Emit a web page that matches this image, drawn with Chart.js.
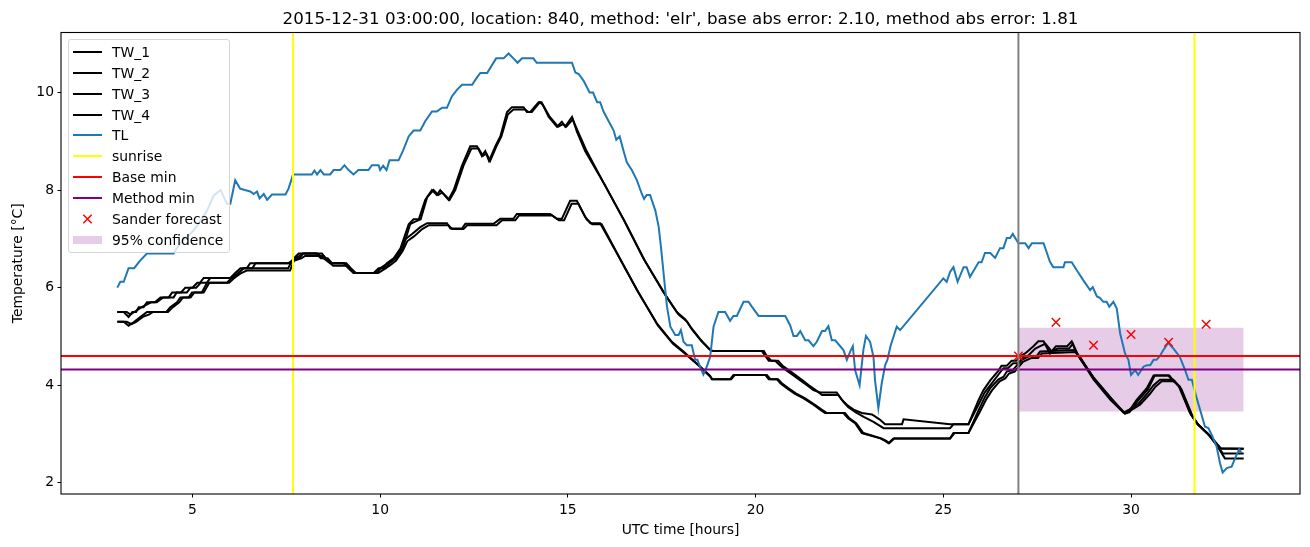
<!DOCTYPE html>
<html>
<head>
<meta charset="utf-8">
<title>TW / TL forecast</title>
<script src="https://cdn.jsdelivr.net/npm/chart.js@4.4.0/dist/chart.umd.min.js"></script>
<style>
  html, body { margin: 0; padding: 0; background: #fff; }
  #wrap { position: relative; width: 1310px; height: 547px; font-family: 'DejaVu Sans', sans-serif; color: #000; }
  #title { position: absolute; left: 61px; width: 1239px; top: 8px; text-align: center; font-size: 16.7px; line-height: 20px; white-space: nowrap; }
  #legend { position: absolute; left: 68px; top: 39px; width: 162px; height: 214px; box-sizing: border-box; border: 1px solid #d6d6d6; border-radius: 3px; background: rgba(255,255,255,0.8); font-size: 13.9px; }
  #legend .row { position: absolute; left: 0; width: 100%; height: 20px; line-height: 20px; }
  #legend .txt { position: absolute; left: 43px; top: 0; white-space: nowrap; }
  #legend .hline { position: absolute; left: 4px; top: 9px; width: 29px; height: 2px; }
  #legend .patch { position: absolute; left: 4px; top: 6px; width: 29px; height: 8px; }
  #legend svg { position: absolute; left: 4px; top: 0; }
</style>
</head>
<body>
<div id="wrap">
  <canvas id="chart" width="1310" height="547"></canvas>
  <div id="title"></div>
  <div id="legend"></div>
</div>
<script>
const titleText = "2015-12-31 03:00:00, location: 840, method: 'elr', base abs error: 2.10, method abs error: 1.81"
const xLabel = 'UTC time [hours]'
const yLabel = 'Temperature [°C]'

const xTicks = [5, 10, 15, 20, 25, 30]
const yTicks = [2, 4, 6, 8, 10]
const xMin = 1.5, xMax = 34.5
const yMin = 1.77, yMax = 11.23

// air temperature TL
const tlTime = [3.0,3.08,3.17,3.3,3.45,3.6,3.79,4.06,4.5,4.6,4.75,5.03,5.2,5.39,5.57,5.75,5.92,6.01,6.14,6.27,6.54,6.63,6.72,6.79,6.9,6.99,7.12,7.48,7.56,7.68,8.18,8.25,8.32,8.41,8.5,8.67,8.76,8.94,9.05,9.16,9.29,9.42,9.69,9.78,9.96,10.0,10.08,10.17,10.25,10.49,10.61,10.76,10.89,11.07,11.2,11.38,11.51,11.65,11.78,11.91,12.05,12.18,12.45,12.58,12.67,12.85,13.09,13.29,13.42,13.55,13.66,13.78,14.08,14.17,15.11,15.2,15.29,15.42,15.58,15.67,15.78,15.86,15.95,16.08,16.22,16.29,16.38,16.48,16.57,16.71,16.84,16.97,17.03,17.1,17.19,17.33,17.42,17.48,17.55,17.64,17.73,17.86,17.95,18.01,18.08,18.17,18.3,18.39,18.45,18.52,18.61,18.7,18.79,18.88,19.01,19.19,19.32,19.41,19.5,19.68,19.81,19.9,20.08,20.79,20.92,21.01,21.1,21.19,21.32,21.41,21.54,21.63,21.77,21.85,21.94,22.03,22.12,22.34,22.43,22.52,22.59,22.65,22.77,22.87,22.94,23.05,23.14,23.18,23.27,23.36,23.45,23.51,23.6,23.76,23.85,25.0,25.09,25.18,25.27,25.38,25.54,25.62,25.71,25.94,26.02,26.11,26.25,26.38,26.51,26.6,26.69,26.78,26.85,27.0,27.18,27.27,27.36,27.67,27.84,27.93,28.2,28.24,28.42,28.55,28.73,28.91,28.98,29.09,29.17,29.26,29.35,29.42,29.53,29.62,29.71,29.84,29.93,30.0,30.11,30.19,30.33,30.42,30.51,30.6,30.68,30.77,30.86,30.99,31.13,31.3,31.44,31.53,31.62,31.75,31.88,31.97,32.06,32.15,32.28,32.37,32.44,32.55,32.68,32.77,32.88,32.94]
const tlValues = [6.0,6.12,6.12,6.4,6.4,6.55,6.7,6.7,6.7,6.83,6.97,7.17,7.35,7.58,7.89,8.0,7.72,7.72,8.2,8.03,7.97,7.92,7.97,7.83,7.92,7.8,7.91,7.91,8.03,8.32,8.32,8.4,8.32,8.41,8.32,8.32,8.41,8.41,8.51,8.41,8.32,8.41,8.41,8.51,8.51,8.41,8.5,8.41,8.61,8.61,8.81,9.1,9.22,9.22,9.41,9.61,9.61,9.69,9.69,9.92,10.06,10.16,10.16,10.31,10.4,10.4,10.7,10.7,10.8,10.7,10.61,10.7,10.7,10.61,10.61,10.41,10.38,10.24,10.0,10.0,9.8,9.8,9.61,9.42,9.22,9.03,9.1,8.81,8.57,8.4,8.2,7.92,7.82,7.9,7.9,7.58,7.24,6.83,6.29,5.61,5.2,5.03,5.03,5.13,4.89,4.82,4.82,4.52,4.52,4.38,4.22,4.38,4.58,5.2,5.5,5.5,5.32,5.42,5.42,5.71,5.71,5.61,5.42,5.42,5.23,5.01,5.01,5.11,4.92,4.92,4.8,4.89,5.11,5.11,5.21,4.92,4.92,4.72,4.52,4.69,4.8,4.31,4.0,4.72,5.01,4.89,4.58,4.11,3.53,4.04,4.41,4.52,4.82,5.2,5.13,6.19,6.12,6.32,6.42,6.12,6.42,6.42,6.22,6.52,6.52,6.71,6.71,6.61,6.81,6.81,7.02,7.02,7.1,6.91,6.91,6.81,6.91,6.91,6.53,6.42,6.42,6.52,6.52,6.36,6.15,5.95,6.01,5.82,5.79,5.71,5.71,5.61,5.71,5.57,5.06,4.65,4.52,4.21,4.31,4.21,4.38,4.41,4.41,4.52,4.52,4.6,4.72,4.87,4.75,4.58,4.31,4.11,4.11,3.73,3.39,3.15,3.12,2.98,2.74,2.4,2.21,2.3,2.33,2.5,2.69,2.61]

// road / wet-bulb series TW_1..TW_4
const tw1Time = [3.0,3.17,3.3,3.4,3.5,3.57,3.7,3.79,4.0,4.15,4.37,4.46,4.7,4.81,5.0,5.13,5.2,5.3,6.01,6.14,6.28,6.45,6.54,7.61,7.7,7.83,8.32,8.5,8.67,9.03,9.15,9.29,9.83,9.96,10.1,10.18,10.36,10.54,10.76,10.89,11.03,11.2,11.38,11.51,11.6,11.82,11.96,12.18,12.4,12.58,12.71,12.8,12.9,13.07,13.2,13.38,13.51,13.82,13.91,14.0,14.22,14.3,14.49,14.71,14.84,14.93,15.11,15.24,15.46,15.99,16.48,17.01,17.55,17.9,18.13,18.26,18.52,18.75,18.83,20.17,20.26,20.35,20.52,20.66,20.83,21.01,21.19,21.37,21.54,21.72,22.16,22.3,22.43,22.61,22.83,23.1,23.3,23.45,23.9,23.94,25.18,25.27,25.67,25.94,26.07,26.25,26.47,26.55,26.69,26.82,26.95,27.05,27.18,27.4,27.53,27.67,27.84,28.0,28.3,28.42,28.55,28.99,29.44,29.8,29.93,30.15,30.42,30.6,30.99,31.1,31.26,31.57,31.75,32.02,32.2,32.37,33.0]
const tw1 = [5.5,5.5,5.4,5.5,5.5,5.6,5.6,5.7,5.7,5.8,5.8,5.9,5.9,6.0,6.0,6.1,6.1,6.2,6.2,6.3,6.4,6.4,6.5,6.5,6.6,6.7,6.7,6.6,6.5,6.5,6.4,6.3,6.3,6.4,6.4,6.5,6.6,6.8,7.3,7.4,7.4,7.8,8.0,7.9,8.0,7.8,8.0,8.5,8.9,8.9,8.7,8.8,8.6,8.9,9.1,9.6,9.7,9.7,9.6,9.6,9.8,9.8,9.5,9.3,9.4,9.3,9.5,9.2,8.8,8.1,7.4,6.6,5.9,5.5,5.35,5.2,4.95,4.75,4.7,4.7,4.6,4.5,4.5,4.4,4.3,4.2,4.1,4.0,3.9,3.85,3.85,3.7,3.6,3.5,3.43,3.4,3.3,3.2,3.2,3.3,3.2,3.2,3.2,3.7,3.9,4.1,4.3,4.4,4.4,4.5,4.5,4.6,4.65,4.8,4.9,4.9,4.65,4.8,4.8,4.9,4.65,4.17,3.76,3.44,3.45,3.7,3.94,4.2,4.2,4.1,4.0,3.43,3.22,3.02,2.88,2.71,2.7]

const tw2Time = [3.0,3.25,3.35,3.45,3.65,3.9,4.05,4.22,4.5,4.58,4.85,4.95,5.1,5.22,5.38,5.48,6.1,6.22,6.36,6.6,6.68,7.55,7.65,7.75,7.95,8.3,8.42,8.6,8.72,9.1,9.22,9.35,9.9,10.02,10.15,10.25,10.42,10.6,10.8,10.92,11.08,11.25,11.42,11.55,11.65,11.85,12.0,12.22,12.43,12.62,12.74,12.83,12.93,13.1,13.23,13.4,13.55,13.86,13.95,14.04,14.25,14.33,14.52,14.74,14.87,14.96,15.13,15.27,15.5,16.02,16.52,17.05,17.6,17.95,18.18,18.3,18.56,18.8,18.88,20.22,20.3,20.42,20.6,20.72,20.9,21.08,21.25,21.42,21.6,21.77,22.2,22.35,22.47,22.66,22.88,23.14,23.41,23.76,25.18,25.27,25.67,25.97,26.1,26.3,26.5,26.6,26.72,26.86,27.0,27.1,27.25,27.45,27.58,27.72,27.88,28.05,28.35,28.45,28.6,29.03,29.48,29.84,29.96,30.18,30.45,30.63,31.02,31.12,31.3,31.6,31.78,32.05,32.23,32.4,33.0]
const tw2 = [5.5,5.5,5.45,5.5,5.6,5.7,5.7,5.8,5.8,5.9,5.9,6.0,6.0,6.1,6.1,6.2,6.2,6.3,6.4,6.4,6.5,6.5,6.55,6.6,6.7,6.7,6.6,6.6,6.5,6.5,6.4,6.3,6.3,6.4,6.4,6.5,6.6,6.8,7.3,7.35,7.4,7.85,8.0,7.9,7.95,7.8,8.0,8.5,8.85,8.85,8.7,8.75,8.6,8.9,9.1,9.55,9.65,9.65,9.6,9.6,9.8,9.75,9.5,9.3,9.35,9.3,9.45,9.2,8.8,8.05,7.35,6.55,5.85,5.45,5.3,5.15,4.9,4.72,4.7,4.7,4.6,4.5,4.5,4.4,4.3,4.2,4.1,4.0,3.9,3.8,3.8,3.65,3.55,3.45,3.35,3.25,3.12,3.12,3.12,3.2,3.2,3.65,3.85,4.05,4.25,4.35,4.35,4.45,4.45,4.55,4.6,4.75,4.8,4.85,4.7,4.75,4.75,4.85,4.6,4.12,3.72,3.42,3.45,3.68,3.92,4.2,4.2,4.1,3.97,3.4,3.2,3.0,2.85,2.7,2.7]

const tw3Time = [3.0,3.17,3.3,3.45,3.62,3.79,4.3,4.41,4.59,4.68,4.9,4.99,5.25,5.39,5.92,6.05,6.23,6.37,7.55,7.62,7.7,7.85,7.95,8.45,8.55,8.7,9.05,9.2,9.3,9.9,10.0,10.2,10.38,10.55,10.68,10.85,11.07,11.25,11.78,11.87,12.18,12.27,13.02,13.2,13.55,13.64,14.53,14.71,14.84,15.06,15.24,15.46,15.6,15.86,16.31,16.84,17.37,17.77,18.08,18.5,18.79,18.83,19.32,19.41,20.26,20.35,20.57,20.66,20.83,21.05,21.28,21.54,21.72,21.85,22.34,22.47,22.65,22.83,23.32,23.45,23.54,23.67,25.18,25.27,25.67,25.94,26.11,26.25,26.47,26.6,26.69,26.85,27.09,27.31,27.49,27.58,28.5,28.6,29.0,29.45,29.8,29.95,30.2,30.45,30.6,30.77,31.13,31.3,31.6,31.78,32.05,32.25,32.45,33.0]
const tw3 = [5.3,5.3,5.22,5.3,5.4,5.5,5.5,5.6,5.7,5.8,5.8,5.9,5.9,6.1,6.1,6.2,6.3,6.4,6.4,6.5,6.6,6.6,6.7,6.7,6.6,6.5,6.5,6.4,6.3,6.3,6.4,6.5,6.6,6.8,7.0,7.1,7.24,7.32,7.32,7.21,7.21,7.31,7.31,7.41,7.41,7.51,7.51,7.41,7.41,7.78,7.78,7.45,7.32,7.32,6.7,5.95,5.27,4.89,4.69,4.4,4.19,4.12,4.12,4.21,4.21,4.12,4.12,4.04,3.94,3.82,3.73,3.6,3.5,3.43,3.43,3.32,3.22,3.02,2.91,2.86,2.81,2.91,2.91,3.02,3.02,3.49,3.76,3.94,4.12,4.17,4.28,4.31,4.52,4.6,4.6,4.69,4.72,4.6,4.12,3.7,3.44,3.5,3.62,3.85,4.0,4.11,4.11,3.95,3.4,3.2,3.0,2.8,2.6,2.6]

const tw4Time = [3.0,3.25,3.38,3.5,3.68,3.85,3.95,4.35,4.48,4.65,4.75,4.95,5.05,5.3,5.45,5.98,6.12,6.3,6.45,7.6,7.7,7.9,8.0,8.5,8.6,8.75,9.1,9.25,9.35,9.95,10.05,10.25,10.42,10.6,10.72,10.9,11.12,11.3,11.82,11.92,12.22,12.32,13.1,13.25,13.6,13.7,14.58,14.76,14.9,15.1,15.28,15.5,15.65,15.9,16.35,16.88,17.4,17.8,18.1,18.52,18.8,18.86,19.35,19.45,20.3,20.4,20.6,20.7,20.87,21.1,21.32,21.58,21.76,21.9,22.38,22.5,22.68,22.87,23.35,23.48,23.56,23.7,25.18,25.3,25.67,25.97,26.15,26.3,26.5,26.65,26.75,26.9,27.12,27.35,27.52,27.62,28.52,28.64,29.04,29.5,29.84,29.98,30.24,30.5,30.65,30.82,31.16,31.34,31.63,31.8,32.08,32.3,32.5,33.0]
const tw4 = [5.3,5.3,5.25,5.3,5.4,5.45,5.5,5.5,5.6,5.7,5.8,5.8,5.9,5.9,6.1,6.1,6.2,6.3,6.35,6.35,6.55,6.6,6.65,6.65,6.55,6.45,6.45,6.35,6.3,6.3,6.35,6.45,6.55,6.75,6.95,7.05,7.2,7.28,7.28,7.2,7.2,7.28,7.28,7.38,7.38,7.48,7.48,7.38,7.38,7.72,7.72,7.4,7.3,7.3,6.65,5.9,5.22,4.85,4.66,4.38,4.17,4.12,4.12,4.21,4.21,4.12,4.12,4.04,3.94,3.82,3.73,3.6,3.5,3.43,3.43,3.32,3.22,3.02,2.91,2.86,2.81,2.91,2.91,3.02,3.02,3.45,3.72,3.9,4.08,4.14,4.24,4.28,4.48,4.56,4.56,4.65,4.68,4.58,4.1,3.68,3.42,3.48,3.6,3.82,3.97,4.08,4.08,3.92,3.38,3.18,2.98,2.75,2.5,2.5]

const sunrise = [7.68, 31.69]
const forecastTime = 27.0
const baseMin = 4.6
const methodMin = 4.32

const sanderTime = [27, 28, 29, 30, 31, 32]
const sanderValues = [4.6, 5.29, 4.82, 5.04, 4.88, 5.25]

const confStart = 27.0, confEnd = 33.0
const confLow = 3.46, confHigh = 5.18

const TL_BLUE = '#1f77b4'
const CONF_FILL = 'rgba(128, 0, 128, 0.2)'

function pts(t, v){
    return t.map((x, i) => ({x: x, y: v[i]}))
}

function vlines(xs){
    return xs.flatMap(x => [{x: x, y: yMin}, {x: x, y: yMax}, {x: x, y: null}])
}

function hline(y){
    return [{x: xMin, y: y}, {x: xMax, y: y}]
}

function twLine(label, t, v, order){
    return {label: label, data: pts(t, v), borderColor: '#000', handle: 'line', order: order}
}

const datasets = [
    twLine('TW_1', tw1Time, tw1, 60),
    twLine('TW_2', tw2Time, tw2, 59),
    twLine('TW_3', tw3Time, tw3, 58),
    twLine('TW_4', tw4Time, tw4, 57),
    {label: 'TL', data: pts(tlTime, tlValues), borderColor: TL_BLUE, handle: 'line', order: 56},
    {label: 'sunrise', data: vlines(sunrise), borderColor: '#ffff00', spanGaps: false, handle: 'line', order: 55},
    {label: 'Base min', data: hline(baseMin), borderColor: '#ff0000', handle: 'line', order: 54},
    {label: 'Method min', data: hline(methodMin), borderColor: '#800080', handle: 'line', order: 53},
    {label: 'Sander forecast', data: pts(sanderTime, sanderValues), showLine: false,
        pointStyle: 'crossRot', pointRadius: 6, pointBorderWidth: 1.5, borderColor: '#ff0000', handle: 'x', order: 52},
    {label: '95% confidence', data: [{x: confStart, y: confHigh}, {x: confEnd, y: confHigh}],
        borderWidth: 0, borderColor: 'rgba(0,0,0,0)', backgroundColor: CONF_FILL, fill: {value: confLow}, handle: 'patch', order: 100},
    {label: '', data: vlines([forecastTime]), borderColor: '#808080', spanGaps: false, order: 51}
]

const framePlugin = {
    id: 'frame',
    afterDatasetsDraw(chart){
        const {ctx, chartArea} = chart
        ctx.save()
        ctx.strokeStyle = '#000'
        ctx.lineWidth = 1.1
        ctx.strokeRect(chartArea.left, chartArea.top, chartArea.right - chartArea.left, chartArea.bottom - chartArea.top)
        ctx.restore()
    }
}

Chart.defaults.font.family = "'DejaVu Sans', sans-serif"
Chart.defaults.font.size = 13.9
Chart.defaults.color = '#000'

function axisTicks(list){
    return function(scale){
        scale.ticks = list.map(v => ({value: v}))
    }
}

const ctx = document.getElementById('chart').getContext('2d')
const chart = new Chart(ctx, {
    type: 'line',
    data: {datasets: datasets},
    options: {
        responsive: false,
        animation: false,
        layout: {padding: {top: 32.5, right: 10, left: 0, bottom: 0}},
        elements: {
            point: {radius: 0},
            line: {tension: 0, borderWidth: 2, fill: false}
        },
        plugins: {
            legend: {display: false},
            tooltip: {enabled: false},
            title: {display: false}
        },
        scales: {
            x: {
                type: 'linear',
                min: xMin,
                max: xMax,
                afterBuildTicks: axisTicks(xTicks),
                afterFit: function(scale){ scale.height = 53 },
                grid: {drawOnChartArea: false, drawTicks: true, tickLength: 3.5, tickColor: '#000', tickWidth: 1},
                border: {display: false},
                ticks: {padding: 5, maxRotation: 0, autoSkip: false, color: '#000'},
                title: {display: true, text: xLabel, color: '#000', padding: {top: 0, bottom: 8.7}}
            },
            y: {
                type: 'linear',
                min: yMin,
                max: yMax,
                afterBuildTicks: axisTicks(yTicks),
                afterFit: function(scale){ scale.width = 61 },
                grid: {drawOnChartArea: false, drawTicks: true, tickLength: 3.5, tickColor: '#000', tickWidth: 1},
                border: {display: false},
                ticks: {padding: 3.5, autoSkip: false, color: '#000'},
                title: {display: true, text: yLabel, color: '#000', padding: {top: 9.7, bottom: 0}}
            }
        }
    },
    plugins: [framePlugin]
})

document.getElementById('title').textContent = titleText

// legend drawn as html inside the plot, like matplotlib's upper left box
const legend = document.getElementById('legend')
let row = 0
datasets.forEach(function(ds){
    if (!ds.label) return
    const el = document.createElement('div')
    el.className = 'row'
    el.style.top = (2 + row * 20.85) + 'px'
    if (ds.handle === 'line'){
        const h = document.createElement('span')
        h.className = 'hline'
        h.style.background = ds.borderColor
        el.appendChild(h)
    } else if (ds.handle === 'x'){
        el.innerHTML = '<svg width="29" height="20"><path d="M10.3 5.8 L18.7 14.2 M18.7 5.8 L10.3 14.2" stroke="' + ds.borderColor + '" stroke-width="1.5"/></svg>'
    } else if (ds.handle === 'patch'){
        const p = document.createElement('span')
        p.className = 'patch'
        p.style.background = ds.backgroundColor
        el.appendChild(p)
    }
    const t = document.createElement('span')
    t.className = 'txt'
    t.textContent = ds.label
    el.appendChild(t)
    legend.appendChild(el)
    row++
})
</script>
</body>
</html>
